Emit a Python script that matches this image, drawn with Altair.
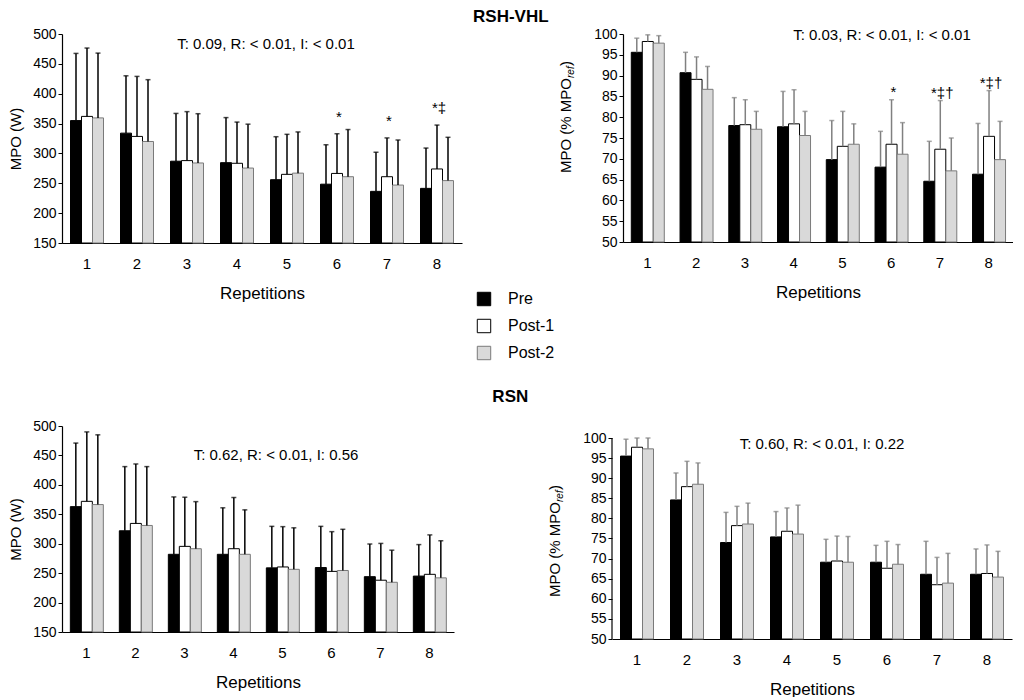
import altair as alt
import pandas as pd

reps = [1, 2, 3, 4, 5, 6, 7, 8]
groups = ["Pre", "Post-1", "Post-2"]

# RSH-VHL, absolute MPO (W): means and mean+SD tops
tl_pre = [355, 334, 287, 284.5, 256, 248.5, 236.5, 241.5]
tl_post1 = [362, 328.5, 288, 283.5, 265, 266.5, 261, 274]
tl_post2 = [359.5, 320, 284, 275.5, 267, 261, 247, 254.5]
tl_pre_up = [467.5, 430, 367, 360, 328, 314.5, 302, 309]
tl_post1_up = [476.5, 429, 370, 352.5, 332, 333, 326, 347.5]
tl_post2_up = [468, 423.5, 366.5, 349, 336, 340, 322.5, 327]
tl_sig = ["", "", "", "", "", "*", "*", "*\u2021"]

# RSH-VHL, relative MPO (% MPOref)
tr_pre = [95.6, 90.7, 78.0, 77.7, 69.8, 68.0, 64.6, 66.3]
tr_post1 = [98.2, 89.1, 78.2, 78.4, 73.0, 73.5, 72.3, 75.4]
tr_post2 = [97.8, 86.7, 77.1, 75.6, 73.5, 71.1, 67.1, 69.8]
tr_pre_up = [99.0, 95.6, 84.7, 86.2, 79.2, 76.6, 74.2, 78.5]
tr_post1_up = [99.8, 94.5, 84.2, 86.6, 81.4, 84.2, 84.0, 86.4]
tr_post2_up = [99.6, 92.2, 81.4, 81.4, 78.4, 78.7, 75.0, 79.0]
tr_sig = ["", "", "", "", "", "*", "*\u2021\u2020", "*\u2021\u2020"]

# RSN, absolute MPO (W)
bl_pre = [363, 322, 282, 282, 259, 259.5, 244, 245]
bl_post1 = [372, 334.5, 295.5, 291.5, 260.5, 253, 238, 248]
bl_post2 = [366.5, 331, 291.5, 282, 256.5, 254.5, 234.5, 242]
bl_pre_up = [471, 431, 379.5, 361, 329.5, 329.5, 299.5, 298.5]
bl_post1_up = [490, 435.5, 379, 378.5, 329, 320.5, 300.5, 315]
bl_post2_up = [485, 431, 371.5, 357.5, 327, 324.5, 289, 305]
bl_sig = ["", "", "", "", "", "", "", ""]

# RSN, relative MPO (% MPOref)
br_pre = [95.5, 84.6, 74.0, 75.4, 69.1, 69.1, 66.1, 66.1]
br_post1 = [97.7, 87.9, 78.2, 76.8, 69.4, 67.6, 63.5, 66.3]
br_post2 = [97.3, 88.5, 78.6, 76.1, 69.1, 68.6, 63.9, 65.4]
br_pre_up = [99.7, 91.3, 81.5, 81.7, 74.8, 73.3, 74.3, 72.4]
br_post1_up = [100, 94.2, 83.0, 82.6, 75.6, 74.3, 70.3, 73.4]
br_post2_up = [100, 93.8, 83.8, 83.3, 75.5, 73.5, 71.3, 71.8]
br_sig = ["", "", "", "", "", "", "", ""]

stats_tl = "T: 0.09, R: < 0.01, I: < 0.01"
stats_tr = "T: 0.03, R: < 0.01, I: < 0.01"
stats_bl = "T: 0.62, R: < 0.01, I: 0.56"
stats_br = "T: 0.60, R: < 0.01, I: 0.22"

FONT = "Liberation Sans"
fills = ["#000000", "#ffffff", "#d9d9d9"]
strokes = ["#000000", "#000000", "#7a7a7a"]


def make_df(pre, p1, p2, pre_up, p1_up, p2_up, sig, base):
    rows = []
    for g, means, ups in zip(groups, [pre, p1, p2], [pre_up, p1_up, p2_up]):
        for i, r in enumerate(reps):
            rows.append({
                "rep": r, "group": g, "mean": means[i], "upper": ups[i],
                "base": base, "sig": sig[i] if g == "Post-1" else "",
            })
    return pd.DataFrame(rows)


legend = alt.Legend(
    title=None, orient="none", legendX=414, legendY=257,
    symbolType="square", symbolSize=180, symbolStrokeWidth=1,
    labelFont=FONT, labelFontSize=16, labelColor="#000", labelOffset=16,
    rowPadding=9,
)


def panel(df, lo, hi, step, width, height, err_color, sig_dy, stats, sx, sy,
          ytitle, title_pad, rel_title=False, title_center=None,
          extra_top=0):
    base = alt.Chart(df)
    x = alt.X("rep:O", title="Repetitions",
              scale=alt.Scale(paddingInner=0.34, paddingOuter=0.17),
              axis=alt.Axis(labelAngle=0, ticks=False, labelFont=FONT,
                            labelFontSize=15, labelColor="#000",
                            labelPadding=13, titleFont=FONT,
                            titleFontSize=17, titleFontWeight="normal",
                            titleColor="#000", titlePadding=14,
                            domainColor="#000", domainWidth=1.2))
    xo = alt.XOffset("group:N", sort=groups,
                     scale=alt.Scale(domain=groups, paddingInner=0,
                                     paddingOuter=0))
    top = hi + extra_top * (hi - lo) / (height - extra_top)
    yscale = alt.Scale(domain=[lo, top], nice=False, zero=False)
    yaxis = alt.Axis(values=list(range(lo, hi + 1, step)), grid=False,
                     labelOverlap=False, domain=(extra_top == 0),
                     labelFont=FONT, labelFontSize=14, labelColor="#000",
                     tickSize=4, tickColor="#000", domainColor="#000",
                     domainWidth=1.2, labelPadding=2,
                     title=None if rel_title else ytitle,
                     titleFont=FONT, titleFontSize=15,
                     titleFontWeight="normal", titleColor="#000",
                     titlePadding=title_pad)
    y_mean = alt.Y("mean:Q", scale=yscale, axis=yaxis)
    y_up = alt.Y("upper:Q", scale=yscale, axis=yaxis)
    bars = base.mark_bar(strokeWidth=1).encode(
        x=x, xOffset=xo,
        y=y_mean,
        y2="base:Q",
        fill=alt.Fill("group:N", sort=groups,
                      scale=alt.Scale(domain=groups, range=fills),
                      legend=legend),
        stroke=alt.Stroke("group:N", sort=groups,
                          scale=alt.Scale(domain=groups, range=strokes),
                          legend=legend),
    )
    rules = base.mark_rule(color=err_color, strokeWidth=1.5).encode(
        x=x, xOffset=xo, y=y_mean, y2="upper:Q")
    caps = base.mark_tick(color=err_color, size=5, thickness=1.5).encode(
        x=x, xOffset=xo, y=y_up)
    sigs = base.transform_filter(alt.datum.sig != "").mark_text(
        font=FONT, fontSize=15, color="#000", dy=sig_dy, dx=2,
        baseline="alphabetic").encode(
        x=x, xOffset=xo, y=y_up, text="sig:N")
    st = alt.Chart(pd.DataFrame({"t": [stats]})).mark_text(
        font=FONT, fontSize=15, color="#000", align="center",
        baseline="middle").encode(
        text="t:N", x=alt.value(sx), y=alt.value(sy))
    layers = [bars, rules, caps, sigs, st]
    if extra_top:
        dom = alt.Chart(pd.DataFrame({"a": [lo], "b": [hi]})).mark_rule(
            color="#000", strokeWidth=1.2).encode(
            x=alt.value(0), y=alt.Y("a:Q", scale=yscale, axis=yaxis),
            y2="b:Q")
        layers.append(dom)
    if rel_title:
        tx = -57
        y0 = title_center + 56
        t1 = alt.Chart(pd.DataFrame({"t": ["MPO (% MPO"]})).mark_text(
            font=FONT, fontSize=15, color="#000", angle=270, align="left",
            baseline="middle").encode(text="t:N", x=alt.value(tx),
                                       y=alt.value(y0))
        t2 = alt.Chart(pd.DataFrame({"t": ["ref"]})).mark_text(
            font=FONT, fontSize=10, fontStyle="italic", color="#000",
            angle=270, align="left", baseline="middle").encode(
            text="t:N", x=alt.value(tx + 5), y=alt.value(y0 - 95))
        t3 = alt.Chart(pd.DataFrame({"t": [")"]})).mark_text(
            font=FONT, fontSize=15, color="#000", angle=270, align="left",
            baseline="middle").encode(text="t:N", x=alt.value(tx),
                                       y=alt.value(y0 - 107))
        layers += [t1, t2, t3]
    return alt.layer(*layers).properties(width=width, height=height)


tl = panel(make_df(tl_pre, tl_post1, tl_post2, tl_pre_up, tl_post1_up,
                   tl_post2_up, tl_sig, 150),
           150, 500, 50, 400, 209, "#000", -12, stats_tl, 204, 10,
           "MPO (W)", 9)
tr = panel(make_df(tr_pre, tr_post1, tr_post2, tr_pre_up, tr_post1_up,
                   tr_post2_up, tr_sig, 50),
           50, 100, 5, 390, 208, "#808080", -3, stats_tr, 259, 1,
           "", 9, rel_title=True, title_center=83)
bl = panel(make_df(bl_pre, bl_post1, bl_post2, bl_pre_up, bl_post1_up,
                   bl_post2_up, bl_sig, 150),
           150, 500, 50, 392, 206, "#000", -9, stats_bl, 214, 29,
           "MPO (W)", 9)
br = panel(make_df(br_pre, br_post1, br_post2, br_pre_up, br_post1_up,
                   br_post2_up, br_sig, 50),
           50, 100, 5, 400, 213, "#808080", -3, stats_br, 210, 18,
           "", 9, rel_title=True, title_center=115, extra_top=12)

row1 = alt.hconcat(tl, tr, spacing=97).properties(
    title=alt.TitleParams("RSH-VHL", font=FONT, fontSize=17,
                          fontWeight="bold", color="#000", anchor="middle",
                          offset=1))
row2 = alt.hconcat(bl, br, spacing=94).properties(
    title=alt.TitleParams("RSN", font=FONT, fontSize=17, fontWeight="bold",
                          color="#000", anchor="middle", offset=13))

chart = alt.vconcat(row1, row2, spacing=87).properties(
    padding={"left": 0, "top": 0, "right": 0, "bottom": 0}
).configure_view(stroke=None).configure_concat(spacing=0).configure_axis(
    labelOverlap=False)

chart.save("out.html", embed_options={"renderer": "svg", "actions": False})
